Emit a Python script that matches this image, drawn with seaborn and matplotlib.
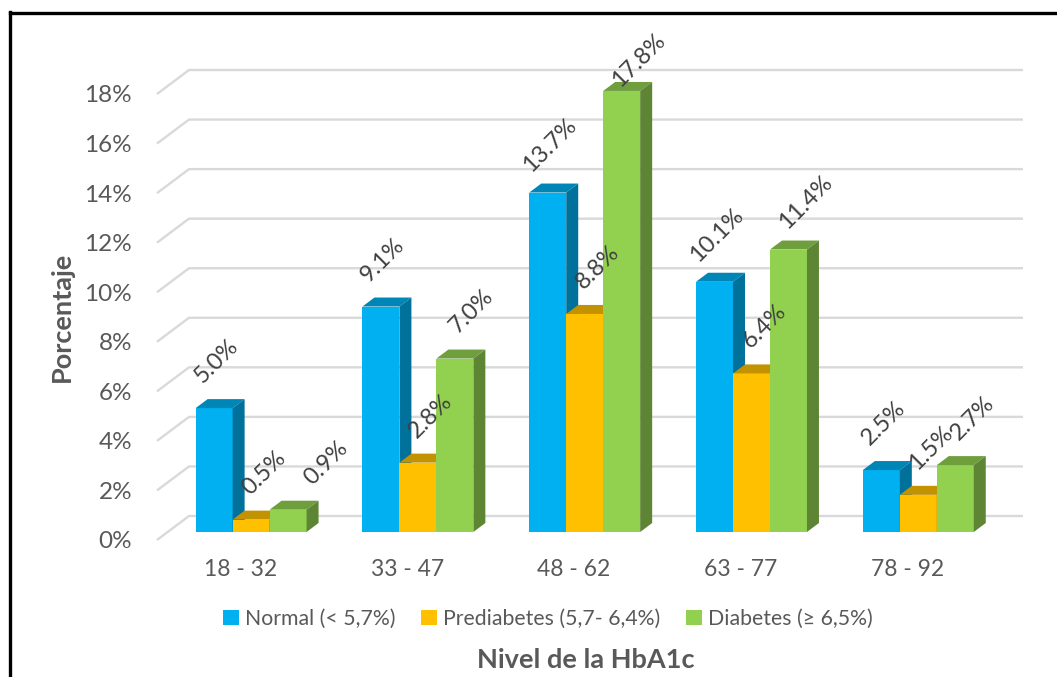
import numpy as np
import pandas as pd
import matplotlib
matplotlib.use("Agg")
import matplotlib.pyplot as plt
import seaborn as sns
from matplotlib.patches import Polygon, Patch
from matplotlib.lines import Line2D
from matplotlib.colors import to_rgb

# ---- data -------------------------------------------------------------
age_groups = ["18 - 32", "33 - 47", "48 - 62", "63 - 77", "78 - 92"]
normal = [5.0, 9.1, 13.7, 10.1, 2.5]
prediabetes = [0.5, 2.8, 8.8, 6.4, 1.5]
diabetes = [0.9, 7.0, 17.8, 11.4, 2.7]
series_names = ["Normal (< 5,7%)", "Prediabetes (5,7- 6,4%)", "Diabetes (≥ 6,5%)"]
series_colors = ["#00B0F0", "#FFC000", "#92D050"]
y_ticks = [0, 2, 4, 6, 8, 10, 12, 14, 16, 18]
y_tick_labels = [f"{t}%" for t in y_ticks]

df = pd.DataFrame({
    "grupo": age_groups * 3,
    "valor": normal + prediabetes + diabetes,
    "serie": np.repeat(series_names, len(age_groups)),
})

# ---- figure / style -----------------------------------------------------
W, H, DPI = 1057, 677, 100
sns.set_style("white")
plt.rcParams["font.family"] = ["Lato", "DejaVu Sans"]
TXT = "#595959"
LBL = "#404040"
GRID = "#D9D9D9"

fig = plt.figure(figsize=(W / DPI, H / DPI), dpi=DPI, facecolor="white")


def px_axes(left, top, right, bottom):
    return fig.add_axes([left / W, 1 - bottom / H, (right - left) / W, (bottom - top) / H])


# front plane of the 3D box, in pixels: left, top (18%), right, bottom (0%)
FL, FT, FR, FB = 157, 94, 991, 540
WALL_DX, WALL_DY = 32, 24      # depth of the box (back wall offset)
BAR_DX, BAR_DY = 10.7, 8       # depth at which the bars stand
TOP_DX, TOP_DY = 12, 9         # depth of each bar

ax_wall = px_axes(FL, FT, FR, FB)
ax_bar = px_axes(FL + BAR_DX, FT - BAR_DY, FR + BAR_DX, FB - BAR_DY)

for ax in (ax_wall, ax_bar):
    ax.set_xlim(-0.5, len(age_groups) - 0.5)
    ax.set_ylim(y_ticks[0], y_ticks[-1])

x_per_px = (len(age_groups)) / (FR - FL)
y_per_px = (y_ticks[-1] - y_ticks[0]) / (FB - FT)

# ---- back wall gridlines ------------------------------------------------
wdx, wdy = WALL_DX * x_per_px, WALL_DY * y_per_px
x0, x1 = -0.5, len(age_groups) - 0.5
for t in y_ticks:
    ax_wall.plot([x0, x0 + wdx, x1 + wdx], [t, t + wdy, t + wdy],
                 color=GRID, lw=1.7, clip_on=False, zorder=1,
                 solid_capstyle="butt")

for s in ax_wall.spines.values():
    s.set_visible(False)
ax_wall.set_yticks(y_ticks)
ax_wall.set_yticklabels(y_tick_labels)
ax_wall.set_xticks(range(len(age_groups)))
ax_wall.set_xticklabels(age_groups)
ax_wall.tick_params(axis="y", length=0, pad=18, labelsize=17.5, labelcolor=TXT)
ax_wall.tick_params(axis="x", length=0, pad=14, labelsize=16.5, labelcolor=TXT)
ax_wall.set_facecolor("none")

# ---- bars (front faces) ---------------------------------------------------
sns.barplot(data=df, x="grupo", y="valor", hue="serie", hue_order=series_names,
            palette=series_colors, width=0.665, saturation=1, linewidth=0,
            legend=False, ax=ax_bar)
ax_bar.set_xlim(-0.5, len(age_groups) - 0.5)
ax_bar.set_ylim(y_ticks[0], y_ticks[-1])
ax_bar.axis("off")
ax_bar.patch.set_visible(False)

# ---- 3D top and side faces, value labels ----------------------------------
tdx, tdy = TOP_DX * x_per_px, TOP_DY * y_per_px
label_dx = [2, 13, 17]
label_nudge = {(0, 2): 21}
label_ceiling = H - 60  # display-pixel limit for label centres

for h, cont in enumerate(ax_bar.containers):
    base = np.array(to_rgb(series_colors[h]))
    top_col = base * 0.76
    side_col = base * 0.64
    for g, bar in enumerate(cont):
        xa = bar.get_x()
        xb = xa + bar.get_width()
        v = bar.get_height()
        z = 10 + h
        bar.set_zorder(z)
        ax_bar.add_patch(Polygon([(xa, v), (xb, v), (xb + tdx, v + tdy), (xa + tdx, v + tdy)],
                                 closed=True, facecolor=top_col, edgecolor="none",
                                 zorder=z, clip_on=False))
        ax_bar.add_patch(Polygon([(xb, 0), (xb + tdx, tdy), (xb + tdx, v + tdy), (xb, v)],
                                 closed=True, facecolor=side_col, edgecolor="none",
                                 zorder=z, clip_on=False))
        xc = xa + bar.get_width() / 2
        top_disp = ax_bar.transData.transform((xc, v))[1]
        dy = min(47, label_ceiling - top_disp)
        dx = label_dx[h] + label_nudge.get((g, h), 0)
        ax_bar.annotate(f"{v:.1f}%", xy=(xc, v), xytext=(dx, dy),
                        textcoords="offset pixels", rotation=45,
                        rotation_mode="anchor", ha="center", va="center",
                        fontsize=17, color=LBL, zorder=30,
                        annotation_clip=False)

# ---- legend and axis titles ---------------------------------------------
handles = [Patch(facecolor=c, edgecolor="none") for c in series_colors]
fig.legend(handles, series_names, loc="center", bbox_to_anchor=(548 / W, 1 - 619 / H),
           ncol=3, frameon=False, fontsize=15.3, labelcolor=TXT,
           handlelength=0.75, handleheight=0.75, handletextpad=0.3,
           columnspacing=1.2)

fig.text(586 / W, 1 - 660 / H, "Nivel de la HbA1c", ha="center", va="center",
         fontsize=19.5, fontweight="bold", color=TXT)
fig.text(62 / W, 1 - 317 / H, "Porcentaje", ha="center", va="center", rotation=90,
         fontsize=19.5, fontweight="bold", color=TXT)

# ---- outer frame ----------------------------------------------------------
fig.add_artist(Line2D([9.5 / W, 9.5 / W], [0, 1 - 12 / H], transform=fig.transFigure,
                      color="black", lw=2.4, solid_capstyle="projecting"))
fig.add_artist(Line2D([9.5 / W, 1], [1 - 13 / H, 1 - 13 / H], transform=fig.transFigure,
                      color="black", lw=2.4, solid_capstyle="projecting"))

fig.savefig("out.png", dpi=DPI, facecolor="white")
